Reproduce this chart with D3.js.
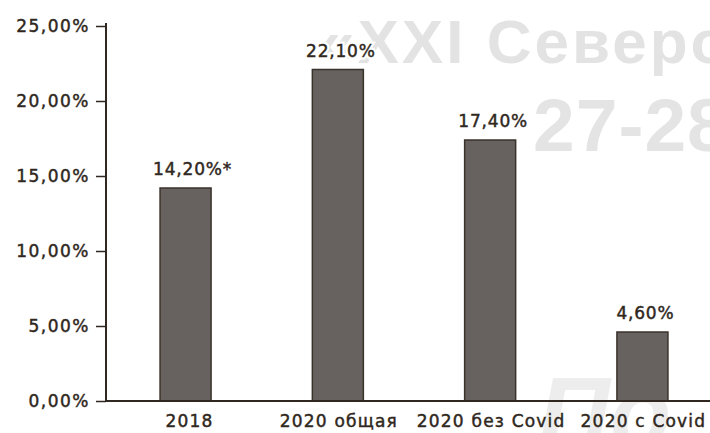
<!DOCTYPE html>
<html>
<head>
<meta charset="utf-8">
<script src="https://cdn.jsdelivr.net/npm/d3@7"></script>
<style>
  html, body { margin: 0; padding: 0; background: #fff; }
  svg { display: block; }
  .lbl { font-family: "DejaVu Sans", Verdana, sans-serif; }
  .backdrop { font-family: "Liberation Sans", Arial, sans-serif; font-weight: bold; }
</style>
</head>
<body>
<svg id="chart" width="710" height="433"></svg>
<script>
// Share values, in percent
const categories = ["2018", "2020 общая", "2020 без Covid", "2020 с Covid"];
const values = [14.2, 22.1, 17.4, 4.6];
const valueLabels = ["14,20%*", "22,10%", "17,40%", "4,60%"];
const yTicks = [0, 5, 10, 15, 20, 25];

// Background caption text
const backdropLines = ["«XXI Северо", "27-28", "По"];

const W = 710, H = 433;
const margin = { top: 26, right: 0, bottom: 32, left: 106 };
const ink = "#2f2720";
const barFill = "#67625f";

const svg = d3.select("#chart");

// faint backdrop lettering
const back = svg.append("g");
back.append("text").attr("class", "backdrop").attr("x", 320).attr("y", 63)
  .attr("font-size", 62).attr("letter-spacing", 3).attr("fill", "#e3e3e3")
  .text(backdropLines[0]);
back.append("text").attr("class", "backdrop").attr("x", 533).attr("y", 151)
  .attr("font-size", 75).attr("letter-spacing", 1).attr("fill", "#e4e4e4")
  .text(backdropLines[1]);
back.append("text").attr("class", "backdrop").attr("x", 538).attr("y", 447)
  .attr("font-size", 100).attr("font-style", "italic").attr("fill", "#ededed")
  .text(backdropLines[2]);

const y = d3.scaleLinear().domain([0, 25]).range([H - margin.bottom, margin.top]);
const x = d3.scaleBand().domain(categories)
  .range([margin.left, 722])
  .paddingInner(0.665)
  .paddingOuter(0.355);

// bars
svg.append("g").selectAll("rect")
  .data(values)
  .join("rect")
  .attr("x", (d, i) => x(categories[i]))
  .attr("y", d => y(d))
  .attr("width", x.bandwidth())
  .attr("height", d => y(0) - y(d))
  .attr("fill", barFill)
  .attr("stroke", "#3b322b")
  .attr("stroke-width", 1.5);

// value labels: white halo layer, then the text itself
const labelX = (d, i) => x(categories[i]) + x.bandwidth() / 2 + (i === 0 ? 7 : 3);
["halo", "text"].forEach(layer => {
  svg.append("g").selectAll("text")
    .data(values)
    .join("text")
    .attr("class", "lbl")
    .attr("x", labelX)
    .attr("y", d => y(d) - 13)
    .attr("text-anchor", "middle")
    .attr("font-size", 17)
    .attr("letter-spacing", 0.8)
    .attr("fill", layer === "halo" ? "#fff" : ink)
    .attr("stroke", layer === "halo" ? "#fff" : ink)
    .attr("stroke-width", layer === "halo" ? 5 : 0.45)
    .text((d, i) => valueLabels[i]);
});

// y axis
const yAxis = svg.append("g")
  .attr("transform", `translate(${margin.left},0)`)
  .call(d3.axisLeft(y).tickValues(yTicks).tickSize(10).tickPadding(6)
    .tickFormat(d => d3.format(".2f")(d).replace(".", ",") + "%"));
yAxis.select(".domain").attr("stroke", ink).attr("stroke-width", 2)
  .attr("d", `M0,${y(0)}V${y(25) - 3}`);
yAxis.selectAll(".tick line").attr("stroke", ink).attr("stroke-width", 1.5);
yAxis.selectAll(".tick text")
  .attr("class", "lbl")
  .attr("fill", ink).attr("stroke", ink).attr("stroke-width", 0.45)
  .attr("font-size", 17).attr("letter-spacing", 1.5);

// x axis
const xAxis = svg.append("g")
  .attr("transform", `translate(0,${y(0)})`)
  .call(d3.axisBottom(x).tickSize(0).tickPadding(14));
xAxis.select(".domain").attr("stroke", ink).attr("stroke-width", 2)
  .attr("d", `M${margin.left},0H${W}`);
xAxis.selectAll(".tick text")
  .attr("class", "lbl")
  .attr("fill", ink).attr("stroke", ink).attr("stroke-width", 0.45)
  .attr("font-size", 17).attr("letter-spacing", 1.2)
  .attr("dx", (d, i) => i === 0 ? 4 : 1);
</script>
</body>
</html>
